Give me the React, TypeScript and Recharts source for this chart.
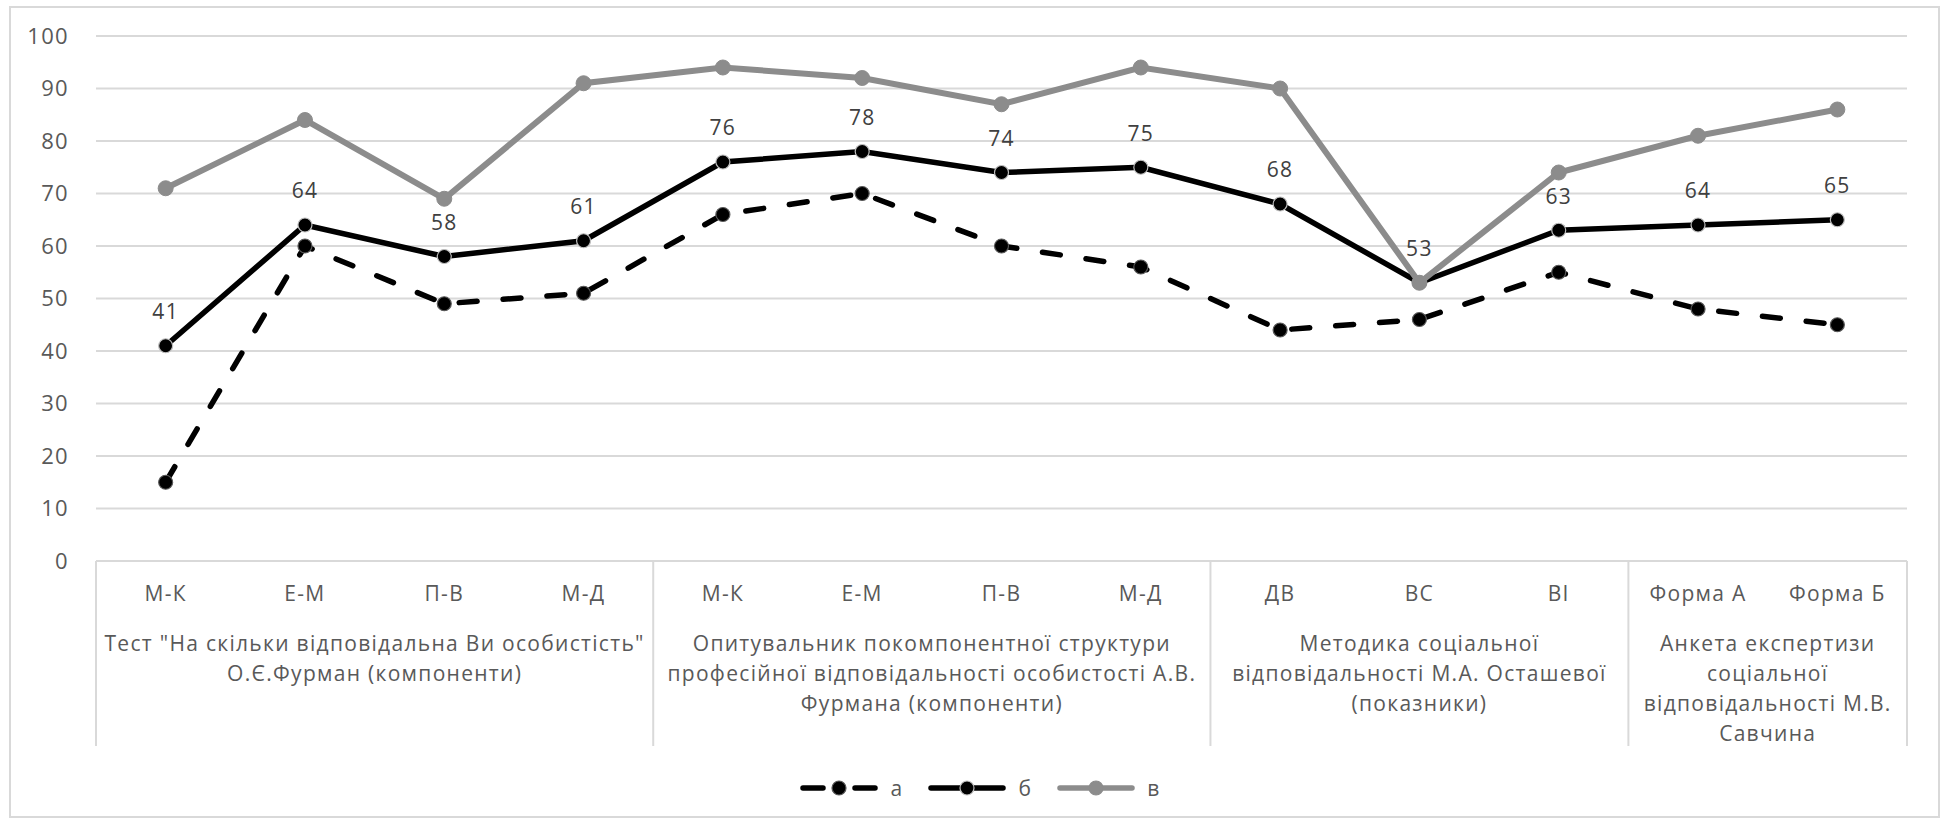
import React from "react";
import { LineChart, Line, XAxis, YAxis, CartesianGrid, Legend, LabelList } from "recharts";

// indicator codes along the x axis
const codes = ["М-К", "Е-М", "П-В", "М-Д", "М-К", "Е-М", "П-В", "М-Д", "ДВ", "ВС", "ВІ", "Форма А", "Форма Б"];

// series values
const seriesA = [15, 60, 49, 51, 66, 70, 60, 56, 44, 46, 55, 48, 45];
const seriesB = [41, 64, 58, 61, 76, 78, 74, 75, 68, 53, 63, 64, 65];
const seriesV = [71, 84, 69, 91, 94, 92, 87, 94, 90, 53, 74, 81, 86];

const yTicks = [0, 10, 20, 30, 40, 50, 60, 70, 80, 90, 100];

// method groups under the codes, with how many codes each spans
const groupSizes = [4, 4, 3, 2];
const groupNames = [
  ['Тест "На скільки відповідальна Ви особистість"', "О.Є.Фурман (компоненти)"],
  ["Опитувальник покомпонентної структури", "професійної відповідальності особистості А.В.", "Фурмана (компоненти)"],
  ["Методика соціальної", "відповідальності М.А. Осташевої", "(показники)"],
  ["Анкета експертизи", "соціальної", "відповідальності М.В.", "Савчина"],
];

// each code sits in the middle of its own slot
const data = codes.map((code, i) => ({ pos: i + 0.5, code, a: seriesA[i], b: seriesB[i], v: seriesV[i] }));
const codeTicks = data.map((d) => d.pos);

// boundaries and centres of the groups in slot units
const bounds: number[] = [0];
groupSizes.forEach((s) => bounds.push(bounds[bounds.length - 1] + s));
const centres = groupSizes.map((s, i) => bounds[i] + s / 2);
const groupTicks = [...bounds, ...centres].sort((p, q) => p - q);

const GRID = "#d9d9d9";
const TEXT = "#595959";
const GRAY = "#8c8c8c";
const FONT = 21;
const CODE_AXIS_H = 60;

const CodeTick = (props: any) => {
  const { x, y, payload } = props;
  return (
    <text x={x} y={y} dy="0.355em" textAnchor="middle" fill={TEXT} fontSize={FONT}>
      {codes[Math.floor(payload.value)]}
    </text>
  );
};

const GroupTick = (props: any) => {
  const { x, y, payload } = props;
  if (bounds.includes(payload.value)) {
    return <line x1={x} x2={x} y1={y - CODE_AXIS_H} y2={y + 125} stroke={GRID} strokeWidth={2} />;
  }
  const lines = groupNames[centres.indexOf(payload.value)] || [];
  return (
    <text x={x} y={y + 23} textAnchor="middle" fill={TEXT} fontSize={FONT}>
      {lines.map((l, i) => (
        <tspan key={i} x={x} dy={i === 0 ? "0.355em" : 30}>
          {l}
        </tspan>
      ))}
    </text>
  );
};

const ValueLabel = (props: any) => {
  const { x, y, value } = props;
  return (
    <text x={x} y={y - 34} dy="0.355em" textAnchor="middle" fill="#404040" fontSize={FONT}>
      {value}
    </text>
  );
};

const legendItems = [
  { name: "а", color: "#000", dash: "20 32", dotStroke: "#595959" },
  { name: "б", color: "#000", dash: undefined, dotStroke: "#bfbfbf" },
  { name: "в", color: GRAY, dash: undefined, dotStroke: GRAY },
];

const LegendContent = () => (
  <div style={{ display: "flex", justifyContent: "center", alignItems: "center", height: 40 }}>
    {legendItems.map((it, i) => (
      <span key={it.name} style={{ display: "flex", alignItems: "center", marginLeft: i ? 25 : 0 }}>
        <svg width={78} height={20}>
          <line x1={3} x2={75} y1={10} y2={10} stroke={it.color} strokeWidth={5.5} strokeDasharray={it.dash} strokeLinecap="round" />
          <circle cx={39} cy={10} r={7} fill={it.color} stroke={it.dotStroke} strokeWidth={1.2} />
        </svg>
        <span style={{ marginLeft: 12, color: TEXT, fontSize: FONT, lineHeight: "20px" }}>{it.name}</span>
      </span>
    ))}
  </div>
);

export default function App() {
  return (
    <div style={{ fontFamily: "'Open Sans', sans-serif", letterSpacing: "1.3px" }}>
      <div
        style={{
          position: "absolute",
          left: 9,
          top: 6,
          width: 1931,
          height: 812,
          border: `2px solid ${GRID}`,
          boxSizing: "border-box",
        }}
      />
      <div style={{ position: "absolute", left: 0, top: 0 }}>
        <LineChart width={1941} height={820} data={data} margin={{ top: 36, right: 34, left: 0, bottom: 29 }}>
          <CartesianGrid vertical={false} stroke={GRID} strokeWidth={2} />
          <XAxis
            dataKey="pos"
            type="number"
            domain={[0, codes.length]}
            allowDataOverflow
            ticks={codeTicks}
            interval={0}
            height={CODE_AXIS_H}
            axisLine={false}
            tickLine={false}
            tickSize={0}
            tickMargin={33}
            tick={<CodeTick />}
          />
          <XAxis
            xAxisId="groups"
            dataKey="pos"
            type="number"
            domain={[0, codes.length]}
            allowDataOverflow
            ticks={groupTicks}
            interval={0}
            height={130}
            axisLine={false}
            tickLine={false}
            tickSize={0}
            tickMargin={0}
            tick={<GroupTick />}
          />
          <YAxis
            domain={[0, 100]}
            ticks={yTicks}
            width={96}
            axisLine={false}
            tickLine={false}
            tickSize={0}
            tickMargin={27}
            tick={{ fill: TEXT, fontSize: FONT + 1 }}
          />
          <Legend
            verticalAlign="bottom"
            content={<LegendContent />}
            wrapperStyle={{ top: 768, left: 10, width: 1941, height: 40 }}
          />
          <Line
            dataKey="a"
            stroke="#000"
            strokeWidth={5.5}
            strokeDasharray="18 26"
            strokeLinecap="round"
            dot={{ r: 7, fill: "#000", stroke: "#595959", strokeWidth: 1.2, strokeDasharray: "" }}
            isAnimationActive={false}
          />
          <Line
            dataKey="b"
            stroke="#000"
            strokeWidth={5.5}
            dot={{ r: 7, fill: "#000", stroke: "#bfbfbf", strokeWidth: 1.2 }}
            isAnimationActive={false}
          >
            <LabelList dataKey="b" content={<ValueLabel />} />
          </Line>
          <Line
            dataKey="v"
            stroke={GRAY}
            strokeWidth={6}
            dot={{ r: 7.5, fill: GRAY, stroke: GRAY, strokeWidth: 1 }}
            isAnimationActive={false}
          />
        </LineChart>
      </div>
    </div>
  );
}
